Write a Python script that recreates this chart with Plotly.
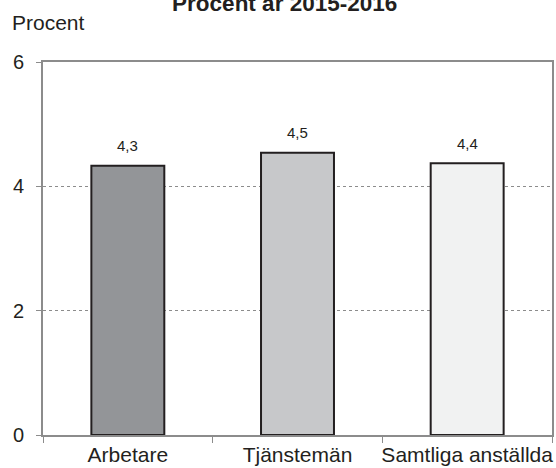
import plotly.graph_objects as go

categories = ["Arbetare", "Tjänstemän", "Samtliga anställda"]
values = [4.33, 4.54, 4.37]
value_labels = ["4,3", "4,5", "4,4"]
colors = ["#939598", "#c7c8ca", "#f1f2f2"]
y_ticks = [0, 2, 4, 6]

FONT = "Arial, Liberation Sans, sans-serif"
TXT = "#231f20"
AX = "#8c8c8c"

fig = go.Figure()
fig.add_trace(go.Bar(
    x=categories, y=values,
    marker=dict(color=colors, line=dict(color=TXT, width=2)),
    width=0.43,
    hoverinfo="skip",
))

for c, v, t in zip(categories, values, value_labels):
    fig.add_annotation(x=c, y=v, text=t, showarrow=False, yshift=20, yanchor="middle",
                       font=dict(family=FONT, size=15, color=TXT))

fig.add_annotation(xref="paper", yref="paper", x=-0.064, y=1.105, xanchor="left", yanchor="middle",
                   text="Procent", showarrow=False,
                   font=dict(family=FONT, size=21, color=TXT))

fig.update_layout(
    width=556, height=468,
    margin=dict(l=43, r=4, t=62, b=33),
    paper_bgcolor="white", plot_bgcolor="white",
    showlegend=False,
    title=dict(text="<b>Procent år 2015-2016</b>", x=0.512, xanchor="center",
               y=0.9925, yref="container", yanchor="middle",
               font=dict(family=FONT, size=22.5, color=TXT)),
    font=dict(family=FONT, color=TXT),
)
fig.update_xaxes(
    type="category", showline=True, linecolor=AX, linewidth=1.8, mirror=True,
    ticks="outside", tickson="boundaries", ticklen=6, tickcolor=AX, tickangle=0,
    tickfont=dict(size=21), showgrid=False, automargin=False,
)
fig.update_yaxes(
    range=[0, 6], tickvals=y_ticks, showline=True, linecolor=AX, linewidth=1.8, mirror=True,
    ticks="outside", ticklen=5, tickcolor=AX, tickfont=dict(size=20), ticklabelstandoff=8,
    showgrid=True, gridcolor=AX, griddash="dot", gridwidth=1, zeroline=False, automargin=False,
)

fig.write_html("out.html", config={"displayModeBar": False},
               post_script="document.body.style.margin='0px';")
